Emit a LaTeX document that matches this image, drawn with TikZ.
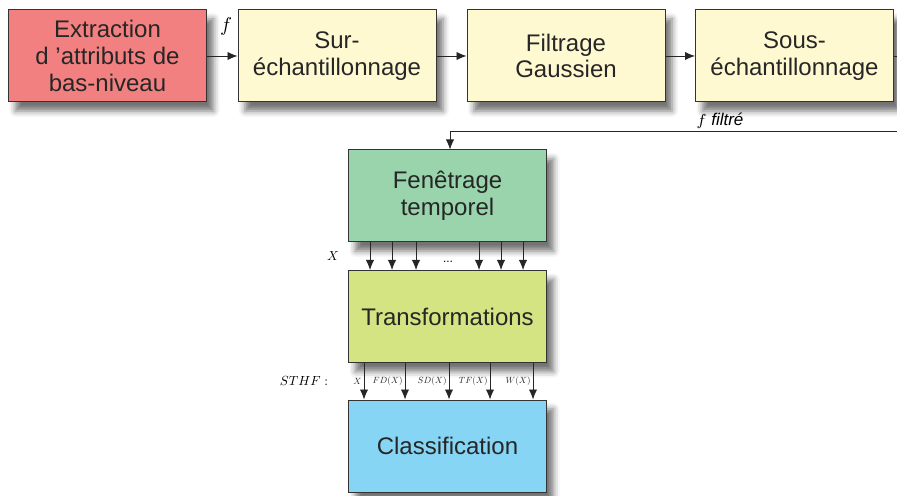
\documentclass[tikz,border=0pt]{standalone}
\usepackage{graphicx}
\usepackage{fontspec}
\setmainfont{Liberation Sans}
\usetikzlibrary{arrows.meta,shadows.blur}
\definecolor{saumon}{RGB}{242,128,128}
\definecolor{creme}{RGB}{255,249,210}
\definecolor{vert}{RGB}{153,212,172}
\definecolor{olive}{RGB}{212,228,130}
\definecolor{ciel}{RGB}{135,213,245}
\newcommand{\petit}[2]{\scalebox{#1}{$#2$}}

\begin{document}
\begin{tikzpicture}[x=0.5pt,y=-0.5pt,
    bloc/.style={draw=black!80, line width=0.5pt, minimum width=99pt, minimum height=46pt,
        align=center, text=black!85, font=\fontsize{12}{13.3}\selectfont,
        blur shadow={shadow xshift=3.5pt, shadow yshift=-4.5pt, shadow blur radius=3pt, shadow opacity=55}},
    fleche/.style={-{Latex[length=5pt,width=4.2pt]}, line width=0.45pt, black!85},
    etiq/.style={inner sep=1pt}]
    \useasboundingbox (0,0) rectangle (897,496);
    % Chaine du haut
    \node[bloc, fill=saumon] (ext) at (107.5,56) {Extraction\\d 'attributs de\\bas-niveau};
    \node[bloc, fill=creme] (sur) at (337,56) {Sur-\\échantillonnage};
    \node[bloc, fill=creme] (filt) at (566,56) {Filtrage\\Gaussien};
    \node[bloc, fill=creme] (sous) at (794.5,56) {Sous-\\échantillonnage};
    \draw[fleche] (ext) -- (sur);
    \draw[fleche] (sur) -- (filt);
    \draw[fleche] (filt) -- (sous);
    \node (f) at (226,27) {$f$};
    % Retour vers le fenetrage
    \node[bloc, fill=vert] (fen) at (447.5,196) {Fenêtrage\\temporel};
    \coordinate (coin) at (898,131);
    \coordinate (retour) at (450,131);
    \draw[fleche] (sous.east) -- (sous.east -| coin) -- (coin) -- (retour) -- (retour |- fen.north);
    \node[font=\fontsize{8.5}{9}\selectfont] (ffilt) at (720,121) {$f$ \textit{filtré}};
    % Fenetres X
    \node[bloc, fill=olive] (trans) at (447.5,316.5) {Transformations};
    \foreach \x in {370,392,416,479,501,523}
        \draw[fleche] (\x,0 |- fen.south) -- (\x,0 |- trans.north);
    \node[font=\fontsize{6}{7}\selectfont] (pts) at (448,262) {...};
    \node (X) at (333,256) {\petit{0.65}{X}};
    % Attributs STHF
    \node[bloc, fill=ciel] (cls) at (447.5,446) {Classification};
    \node (sthf) at (304,381) {\petit{0.66}{STHF :}};
    \foreach \x/\t [count=\i] in {364/X,405/FD(X),449/SD(X),490/TF(X),533/W(X)}
        \draw[fleche] (\x,0 |- trans.south) -- node[etiq, left] (l\i) {\petit{0.45}{\t}} (\x,0 |- cls.north);
\end{tikzpicture}
\end{document}
